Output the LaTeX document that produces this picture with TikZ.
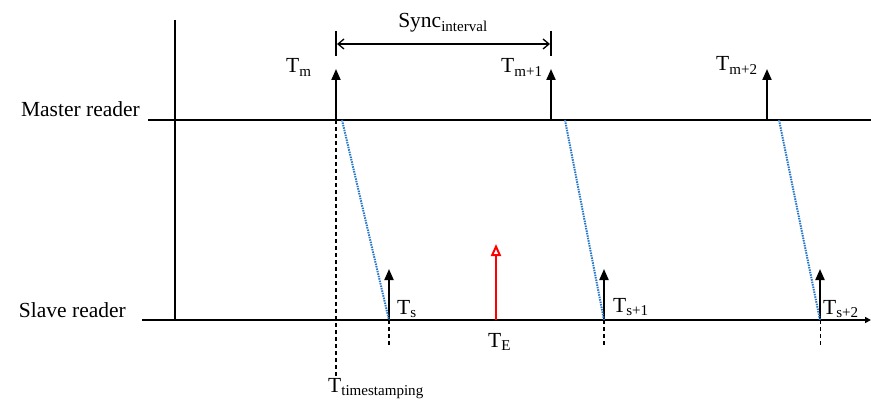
\documentclass[tikz,border=0pt]{standalone}
\usepackage{fontspec}
\setmainfont{Liberation Serif}
\usetikzlibrary{arrows.meta}
\begin{document}
\begin{tikzpicture}[x=1pt,y=-1pt,
  axisline/.style={line width=2pt,black},
  evarrow/.style={line width=2pt,-{Triangle[width=9pt,length=11pt]}},
  redarrow/.style={line width=2pt,red,-{Triangle[open,width=10pt,length=12pt]}},
  guide/.style={line width=1.5pt,dash pattern=on 4pt off 3pt},
  delay/.style={line width=2pt,dash pattern=on 1.5pt off 1pt,color={rgb,255:red,40;green,120;blue,200}},
  lbl/.style={font=\fontsize{21.5}{24}\selectfont,inner sep=0pt}]
\useasboundingbox (0,0) rectangle (871,401);
% axes
\coordinate (vtop) at (175,20);
\coordinate (vbot) at (175,320);
\coordinate (mL) at (148,120);
\coordinate (mR) at (871,120);
\coordinate (sL) at (142,320);
\coordinate (sR) at (871,320);
\draw[axisline] (vtop) -- (vbot);
\draw[axisline] (mL) -- (mR);
\draw[axisline,-{Triangle[width=6pt,length=6pt]}] (sL) -- (sR);
\node[lbl,anchor=base east] (master) at (140,117) {Master reader};
\node[lbl,anchor=base east] (slave) at (126,317) {Slave reader};
% master events
\coordinate (m0) at (336,120); \coordinate (m0t) at (336,69);
\coordinate (m1) at (551,120); \coordinate (m1t) at (551,69);
\coordinate (m2) at (767,120); \coordinate (m2t) at (767,69);
\draw[evarrow] (m0) -- (m0t);
\draw[evarrow] (m1) -- (m1t);
\draw[evarrow] (m2) -- (m2t);
\node[lbl,anchor=base west] (tm) at (286,73) {T\textsubscript{m}};
\node[lbl,anchor=base west] (tm1) at (501,73) {T\textsubscript{m+1}};
\node[lbl,anchor=base west] (tm2) at (716,71) {T\textsubscript{m+2}};
% sync interval
\coordinate (b0t) at (336,31); \coordinate (b0b) at (336,56);
\coordinate (b1t) at (551,31); \coordinate (b1b) at (551,56);
\draw[line width=1.5pt] (b0t) -- (b0b);
\draw[line width=1.5pt] (b1t) -- (b1b);
\coordinate (sa) at (337,44); \coordinate (sb) at (550,44);
\draw[line width=1.3pt,{Straight Barb[length=6pt,width=10pt]}-{Straight Barb[length=6pt,width=10pt]}] (sa) -- (sb);
\node[lbl,anchor=base] (sync) at (443,28) {Sync\textsubscript{interval}};
% slave events
\coordinate (s0) at (389,320); \coordinate (s0t) at (389,269);
\coordinate (s1) at (604,320); \coordinate (s1t) at (604,269);
\coordinate (s2) at (820,320); \coordinate (s2t) at (820,269);
\draw[evarrow] (s0) -- (s0t);
\draw[evarrow] (s1) -- (s1t);
\draw[evarrow] (s2) -- (s2t);
\node[lbl,anchor=base west] (ts) at (397,314) {T\textsubscript{s}};
\node[lbl,anchor=base west] (ts1) at (613,312) {T\textsubscript{s+1}};
\node[lbl,anchor=base west] (ts2) at (823,314) {T\textsubscript{s+2}};
% delays
\coordinate (d0) at (342,120); \coordinate (d1) at (565,120); \coordinate (d2) at (779,120);
\draw[delay] (d0) -- (s0);
\draw[delay] (d1) -- (s1);
\draw[delay] (d2) -- (s2);
% dashed guides
\coordinate (g0) at (389,346); \coordinate (g1) at (604,346); \coordinate (g2) at (820,346);
\draw[guide] (s0) -- (g0);
\draw[guide] (s1) -- (g1);
\draw[guide,line width=1pt] (s2) -- (g2);
\coordinate (gts) at (336,378);
\draw[guide] (m0) -- (gts);
\node[lbl,anchor=base west] (tstamp) at (328,392) {T\textsubscript{timestamping}};
% event E
\coordinate (e) at (496,320); \coordinate (et) at (496,244);
\draw[redarrow] (e) -- (et);
\node[lbl,anchor=base west] (te) at (488,347) {T\textsubscript{E}};
\end{tikzpicture}
\end{document}
